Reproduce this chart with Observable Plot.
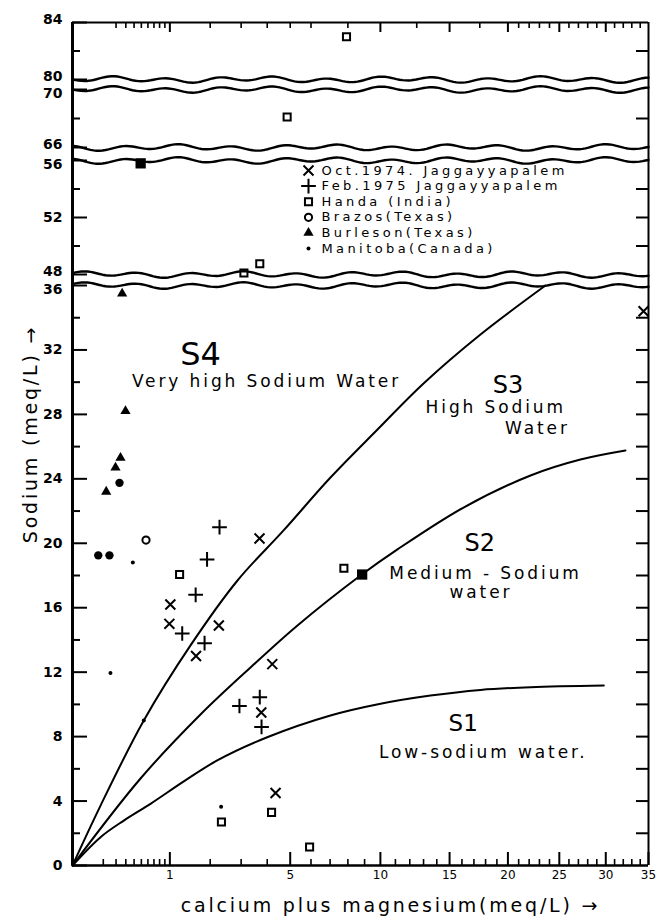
<!DOCTYPE html>
<html>
<head>
<meta charset="utf-8">
<script src="https://cdn.jsdelivr.net/npm/d3@7"></script>
<script src="https://cdn.jsdelivr.net/npm/@observablehq/plot@0.6"></script>
<style>
  html, body { margin: 0; padding: 0; background: #fff; }
  svg { display: block; }
</style>
</head>
<body>
<div id="chart"></div>
<script>
// ---------------- data (x = Ca+Mg meq/L, y = Na meq/L) ----------------
const oct1974 = [[1.01,16.2],[0.99,15.0],[2.26,14.9],[1.61,13.0],[4.21,12.5],[3.76,9.5],[4.35,4.5],[3.69,20.3],[34.4,34.4]];
const feb1975 = [[2.28,21.0],[1.91,19.0],[1.60,16.8],[1.27,14.4],[1.84,13.8],[2.94,9.9],[3.70,10.45],[3.77,8.6]];
const handa = [[1.21,18.06],[2.34,2.7],[4.18,3.3],[5.93,1.15],[7.77,18.45],[3.10,48.1],[3.70,48.75],[4.86,68.1],[7.92,83.0]];
const handaOverlapping = [[0.49,55.8],[8.85,18.06]];
const brazos = [[0.57,20.2]];
const burleson = [[0.12,23.2],[0.195,24.7],[0.243,25.3],[0.296,28.2],[0.26,35.5]];
const manitoba = [[0.384,18.8],[0.152,11.95],[0.536,9.0],[2.33,3.65]];
const manitobaCoincident = [[0.07,19.25],[0.144,19.25],[0.233,23.75]];

// classification boundaries
const boundaryS4S3 = [[0,0],[0.083,3.72],[0.536,9.0],[1.469,13.66],[2.872,17.69],[4.70,20.8],[7.02,24.08],[9.75,27.0],[13.0,29.92],[17.56,32.96],[23.6,36.0]];
const boundaryS3S2 = [[0,0],[0.488,5.40],[1.728,9.37],[3.343,12.29],[5.34,14.9],[8.75,18.0],[11.14,19.62],[16.13,22.22],[22.13,24.21],[27.22,25.2],[32.26,25.76]];
const boundaryS2S1 = [[0,0],[0.083,1.76],[0.278,2.79],[0.642,3.83],[1.307,5.22],[2.21,6.52],[4.0,7.96],[7.02,9.31],[10.01,10.04],[13.52,10.55],[17.56,10.9],[22.13,11.07],[29.78,11.17]];

// region annotations (anchored in data space)
const zoneLabels = [
  {x: 1.73, y: 31.7, text: "S4", size: 32},
  {x: 20.0, y: 29.8, text: "S3", size: 24},
  {x: 17.5, y: 20.0, text: "S2", size: 24},
  {x: 16.1, y: 8.8, text: "S1", size: 23}
];
const zoneDescriptions = [
  {x: 3.97, y: 30.05, text: "Very high Sodium Water"},
  {x: 18.9, y: 28.4, text: "High Sodium"},
  {x: 22.8, y: 27.1, text: "Water"},
  {x: 18.0, y: 18.1, text: "Medium - Sodium"},
  {x: 17.6, y: 16.95, text: "water"},
  {x: 17.8, y: 7.0, text: "Low-sodium water."}
];

// legend
const legendEntries = [
  {key: "oct", label: "Oct.1974. Jaggayyapalem"},
  {key: "feb", label: "Feb.1975 Jaggayyapalem"},
  {key: "handa", label: "Handa (India)"},
  {key: "brazos", label: "Brazos(Texas)"},
  {key: "burleson", label: "Burleson(Texas)"},
  {key: "manitoba", label: "Manitoba(Canada)"}
];

// axis ticks
const yLabelValues = [0,4,8,12,16,20,24,28,32];
const yBreakUpperLabels = [48,66,80,84];
const yBreakLowerLabels = [36,56,70];
const yMidLabels = [52];
const yMinorValues = [2,6,10,14,18,22,26,30,34,50,54,68,82];
const yRightValues = [2,4,6,8,10,12,14,16,18,20,22,24,26,28,30,32,34,50,52,54,68,82];
const xMajorValues = [1,5,10,15,20,25,30,35];
const xMinorValues = [0.1,0.2,0.3,0.4,0.5,0.6,0.7,0.8,0.9,2,3,4,6,7,8,9,11,12,13,14,16,17,18,19,21,22,23,24,26,27,28,29,31,32,33,34];
const xTopMajorValues = [1,10,15,20,25,30];
const xTopMinorValues = [0.2,0.3,0.4,0.5,0.6,0.7,0.8,0.9,2,3,4,5,6,8,12.5,17.5,21,22,23,24,26,27,28,29,31,32,33,34];

// ---------------- broken y axis: piecewise map to a continuous position ----------------
const ySegments = [
  {lo: 0,  hi: 36, v0: 0,   v1: 580},
  {lo: 48, hi: 56, v0: 591, v1: 705},
  {lo: 66, hi: 70, v0: 718, v1: 776},
  {lo: 80, hi: 84, v0: 786, v1: 843}
];
function yv(val) {
  const s = ySegments.find(s => val <= s.hi + 1e-9) || ySegments[ySegments.length - 1];
  return s.v0 + (val - s.lo) / (s.hi - s.lo) * (s.v1 - s.v0);
}
const allYLabels = [...yLabelValues, ...yBreakUpperLabels, ...yBreakLowerLabels, ...yMidLabels];
const yLabelMap = new Map(allYLabels.map(v => [yv(v), String(v)]));
const fmtY = v => yLabelMap.get(v);

// layout (pixels)
const W = 658, H = 921, ML = 72, MR = 10, MT = 22, MB = 56;
const FW = W - ML - MR, FH = H - MT - MB;

// axis-break ornaments (wavy double lines)
function waveLine(base, phase) {
  const pts = [];
  for (let p = 0; p <= FW; p += 3) {
    const t = p / FW;
    pts.push({wx: 35 * t * t, wy: base + 2.1 * Math.sin(p / 8.5 + phase) + 1.2 * Math.sin(p / 23 + 2 * phase)});
  }
  return pts;
}
const breaks = [[36, 48, 0.3], [56, 66, 1.7], [70, 80, 3.1]];
const waveMarks = breaks.flatMap(([a, b, ph]) => [
  Plot.line(waveLine(yv(a), ph), {x: "wx", y: "wy", stroke: "#000", strokeWidth: 2.4}),
  Plot.line(waveLine(yv(b), ph), {x: "wx", y: "wy", stroke: "#000", strokeWidth: 2.4})
]);

// ---------------- series styles ----------------
const styles = {
  oct:      {symbol: "times",    r: 4.6, stroke: "#000", fill: "none", strokeWidth: 2},
  feb:      {symbol: "plus",     r: 4.8, stroke: "#000", fill: "none", strokeWidth: 2},
  handa:    {symbol: "square",   r: 4.0, stroke: "#000", fill: "none", strokeWidth: 2},
  brazos:   {symbol: "circle",   r: 3.6, stroke: "#000", fill: "none", strokeWidth: 2},
  burleson: {symbol: "triangle", r: 3.8, stroke: "none", fill: "#000"},
  manitoba: {symbol: "circle",   r: 2.0, stroke: "none", fill: "#000"}
};
const px = d => d[0], py = d => yv(d[1]);
const series = [
  [oct1974, styles.oct], [feb1975, styles.feb], [handa, styles.handa],
  [brazos, styles.brazos], [burleson, styles.burleson], [manitoba, styles.manitoba]
];
const pointMarks = series.map(([data, s]) => Plot.dot(data, {x: px, y: py, ...s}));
pointMarks.push(Plot.dot(handaOverlapping, {x: px, y: py, symbol: "square", r: 5.8, fill: "#000", stroke: "none"}));
pointMarks.push(Plot.dot(manitobaCoincident, {x: px, y: py, symbol: "circle", r: 4.2, fill: "#000", stroke: "none"}));

const legendMarks = legendEntries.flatMap((e, i) => [
  Plot.dot([e], {frameAnchor: "top-left", dx: 236, dy: 148 + i * 15.6, ...styles[e.key]}),
  Plot.text([e], {frameAnchor: "top-left", dx: 249, dy: 148 + i * 15.6, text: "label",
    textAnchor: "start", lineAnchor: "middle", fontSize: 13, fill: "#000", ariaDescription: "legendtext"})
]);

const boundaryMarks = [boundaryS4S3, boundaryS3S2, boundaryS2S1].map(b =>
  Plot.line(b, {x: px, y: py, stroke: "#000", strokeWidth: 2, curve: "catmull-rom"}));

// inward tick marks (ticks spanning only a short inset of the frame)
const TICK = "#000";
const tickMarks = [
  Plot.tickY(allYLabels, {y: yv, insetRight: FW - 15, stroke: TICK, strokeWidth: 2}),
  Plot.tickY(yMinorValues, {y: yv, insetRight: FW - 8, stroke: TICK, strokeWidth: 2}),
  Plot.tickY(yRightValues, {y: yv, insetLeft: FW - 12, stroke: TICK, strokeWidth: 2}),
  Plot.tickX(xMajorValues, {x: d => d, insetTop: FH - 13, stroke: TICK, strokeWidth: 2}),
  Plot.tickX(xMinorValues, {x: d => d, insetTop: FH - 6, stroke: TICK, strokeWidth: 1.6}),
  Plot.tickX(xTopMajorValues, {x: d => d, insetBottom: FH - 10, stroke: TICK, strokeWidth: 2}),
  Plot.tickX(xTopMinorValues, {x: d => d, insetBottom: FH - 6, stroke: TICK, strokeWidth: 1.6})
];

const chart = Plot.plot({
  width: W,
  height: H,
  marginLeft: ML,
  marginRight: MR,
  marginTop: MT,
  marginBottom: MB,
  style: {fontFamily: "'DejaVu Sans', sans-serif", background: "#fff", color: "#000"},
  x: {type: "sqrt", domain: [0, 35], label: null},
  y: {domain: [0, yv(84)], label: null},
  marks: [
    ...waveMarks,
    ...boundaryMarks,
    Plot.ruleX([0], {stroke: "#000", strokeWidth: 3}),
    Plot.ruleX([35], {stroke: "#000", strokeWidth: 2}),
    Plot.ruleY([0], {stroke: "#000", strokeWidth: 2.5}),
    Plot.ruleY([yv(84)], {stroke: "#000", strokeWidth: 2}),
    ...tickMarks,
    // tick labels
    Plot.axisY({anchor: "left", ticks: [...yLabelValues, ...yMidLabels].map(yv), tickSize: 0, tickPadding: 10,
      tickFormat: fmtY, fontSize: 14, fontWeight: "bold", label: null}),
    Plot.axisY({anchor: "left", ticks: yBreakUpperLabels.map(yv), tickSize: 0, tickPadding: 10, dy: -3,
      tickFormat: fmtY, fontSize: 14, fontWeight: "bold", label: null}),
    Plot.axisY({anchor: "left", ticks: yBreakLowerLabels.map(yv), tickSize: 0, tickPadding: 10, dy: 4,
      tickFormat: fmtY, fontSize: 14, fontWeight: "bold", label: null}),
    Plot.axisX({anchor: "bottom", ticks: xMajorValues, tickSize: 0, tickPadding: 5,
      tickFormat: d => String(d), fontSize: 12, label: null}),
    ...pointMarks,
    Plot.text(zoneLabels, {x: "x", y: d => yv(d.y), text: "text", fontSize: "size", fill: "#000"}),
    Plot.text(zoneDescriptions, {x: "x", y: d => yv(d.y), text: "text", fontSize: 17, fill: "#000", ariaDescription: "spaced"}),
    ...legendMarks,
    Plot.text(["Sodium (meq/L) →"], {frameAnchor: "left", textAnchor: "middle", lineAnchor: "middle",
      dx: -42, dy: -10, rotate: -90, fontSize: 19, fill: "#000", ariaDescription: "title"}),
    Plot.text(["calcium plus magnesium(meq/L) →"], {frameAnchor: "bottom", textAnchor: "middle", lineAnchor: "middle",
      dx: 30, dy: 40, fontSize: 19, fill: "#000", ariaDescription: "title"})
  ]
});

d3.select(chart).selectAll('[aria-description="spaced"] text').style("letter-spacing", "2.9px");
d3.select(chart).selectAll('[aria-description="title"] text').style("letter-spacing", "2.8px");
d3.select(chart).selectAll('[aria-description="legendtext"] text').style("letter-spacing", "3.4px");
document.getElementById("chart").appendChild(chart);
</script>
</body>
</html>
